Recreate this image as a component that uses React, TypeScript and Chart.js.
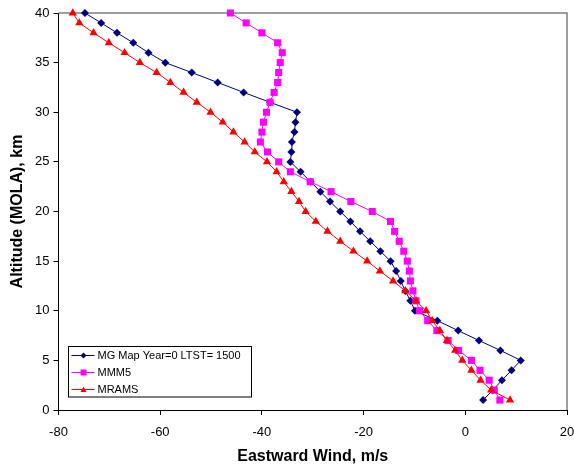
import React, { useEffect, useRef } from 'react';
import { Chart, registerables } from 'chart.js';

Chart.register(...registerables);

const altitudesKm = [1, 2, 3, 4, 5, 6, 7, 8, 9, 10, 11, 12, 13, 14, 15, 16, 17, 18, 19, 20, 21, 22, 23, 24, 25, 26, 27, 28, 29, 30, 31, 32, 33, 34, 35, 36, 37, 38, 39, 40];

const mgMapWind = [3.5, 5.4, 7.2, 9.1, 10.9, 6.9, 2.7, -1.4, -5.5, -9.9, -10.8, -11.8, -12.7, -13.6, -14.7, -16.7, -18.7, -20.7, -22.6, -24.6, -26.6, -28.5, -30.4, -32.4, -34.4, -34.2, -34.1, -33.6, -33.4, -33.1, -38.4, -43.6, -48.7, -53.8, -59.0, -62.3, -65.3, -68.5, -71.6, -74.8];

const mmm5Wind = [6.8, 5.7, 4.7, 2.9, 1.2, -1.3, -3.4, -5.6, -7.4, -9.0, -9.7, -10.3, -10.8, -11.0, -11.4, -12.1, -13.0, -13.9, -14.7, -18.3, -22.5, -26.4, -30.5, -34.4, -36.7, -38.9, -40.3, -40.0, -39.7, -39.1, -38.4, -37.6, -36.9, -36.7, -36.4, -36.0, -36.9, -40.0, -43.1, -46.2];

const mramsWind = [8.8, 5.1, 3.0, 1.2, -0.6, -2.0, -3.6, -5.0, -6.5, -7.7, -9.7, -11.8, -14.2, -16.8, -19.3, -22.0, -24.6, -27.1, -29.4, -31.4, -32.7, -34.2, -35.7, -37.1, -39.0, -41.4, -43.4, -45.6, -47.7, -50.1, -52.8, -55.4, -58.0, -60.7, -64.0, -67.0, -70.1, -73.1, -75.9, -77.2];

const seriesNames = ['MG Map Year=0 LTST= 1500', 'MMM5', 'MRAMS'];
const seriesColors = ['#000080', '#FF00FF', '#FF0000'];
const seriesMarkers = ['rectRot', 'rect', 'triangle'];

const xTickValues = [-80, -60, -40, -20, 0, 20];
const yTickValues = [0, 5, 10, 15, 20, 25, 30, 35, 40];

const xTitle = 'Eastward Wind, m/s';
const yTitle = 'Altitude (MOLA), km';

const FONT = 'Arial, "Liberation Sans", sans-serif';

function toPoints(values: number[]) {
  return values.map((v, i) => ({ x: v, y: altitudesKm[i] }));
}

function drawMarker(ctx: CanvasRenderingContext2D, style: string, x: number, y: number, r: number, color: string) {
  ctx.save();
  ctx.fillStyle = color;
  ctx.beginPath();
  if (style === 'rectRot') {
    ctx.moveTo(x, y - r);
    ctx.lineTo(x + r, y);
    ctx.lineTo(x, y + r);
    ctx.lineTo(x - r, y);
  } else if (style === 'rect') {
    ctx.rect(x - r, y - r, 2 * r, 2 * r);
  } else {
    ctx.moveTo(x, y - r);
    ctx.lineTo(x + r, y + r * 0.8);
    ctx.lineTo(x - r, y + r * 0.8);
  }
  ctx.closePath();
  ctx.fill();
  ctx.restore();
}

const framePlugin = {
  id: 'frameAndLegend',
  beforeDatasetsDraw(chart: any) {
    const { ctx, chartArea } = chart;
    const { left, right, top, bottom } = chartArea;
    ctx.save();
    ctx.strokeStyle = '#808080';
    ctx.lineWidth = 1.5;
    ctx.beginPath();
    ctx.moveTo(left, top);
    ctx.lineTo(right, top);
    ctx.lineTo(right, bottom);
    ctx.stroke();
    ctx.restore();
  },
  afterDraw(chart: any) {
    const { ctx, chartArea } = chart;
    const { left, bottom } = chartArea;
    ctx.save();
    // legend box
    const bx = left + 9;
    const by = bottom - 64;
    const bw = 183;
    const bh = 50.5;
    ctx.fillStyle = '#FFFFFF';
    ctx.fillRect(bx, by, bw, bh);
    ctx.strokeStyle = '#000000';
    ctx.lineWidth = 1;
    ctx.strokeRect(Math.round(bx) + 0.5, Math.round(by) + 0.5, bw, bh);

    const rowYs = [by + 9.5, by + 26.5, by + 43.5];
    ctx.font = '11px ' + FONT;
    ctx.textBaseline = 'middle';
    ctx.textAlign = 'left';
    seriesNames.forEach((name, i) => {
      const yy = rowYs[i];
      ctx.strokeStyle = seriesColors[i];
      ctx.lineWidth = 1;
      ctx.beginPath();
      ctx.moveTo(bx + 4, yy);
      ctx.lineTo(bx + 27, yy);
      ctx.stroke();
      drawMarker(ctx, seriesMarkers[i], bx + 16, yy, 3, seriesColors[i]);
      ctx.fillStyle = '#000000';
      ctx.fillText(name, bx + 30, yy + 0.5);
    });
    ctx.restore();
  },
};

export default function App() {
  const canvasRef = useRef<HTMLCanvasElement | null>(null);

  useEffect(() => {
    document.body.style.margin = '0';
    const canvas = canvasRef.current;
    if (!canvas) return;

    const radii = [4, 5, 4.8];
    const datasets = [mgMapWind, mmm5Wind, mramsWind].map((vals, i) => ({
      label: seriesNames[i],
      data: toPoints(vals),
      showLine: true,
      clip: false as any,
      borderColor: seriesColors[i],
      backgroundColor: seriesColors[i],
      borderWidth: 1,
      pointStyle: seriesMarkers[i] as any,
      pointRadius: radii[i],
      pointBorderWidth: 0,
      pointBackgroundColor: seriesColors[i],
      pointBorderColor: seriesColors[i],
      order: 2 - i,
      tension: 0,
    }));

    const chart = new Chart(canvas, {
      type: 'scatter',
      data: { datasets },
      options: {
        animation: false,
        responsive: false,
        devicePixelRatio: 1,
        layout: { padding: { left: 0, right: 7, top: 13, bottom: 0 } },
        plugins: {
          legend: { display: false },
          tooltip: { enabled: false },
        },
        scales: {
          x: {
            type: 'linear',
            min: -80,
            max: 20,
            afterBuildTicks: (scale: any) => {
              scale.ticks = xTickValues.map((v) => ({ value: v }));
            },
            afterFit: (scale: any) => {
              scale.height = 55;
              scale.paddingLeft = 0;
              scale.paddingRight = 0;
            },
            ticks: {
              color: '#000000',
              font: { family: FONT, size: 13 },
              padding: 10,
              maxRotation: 0,
            },
            grid: {
              drawOnChartArea: false,
              drawTicks: true,
              tickLength: 5,
              color: '#000000',
            },
            border: { color: '#000000', width: 1 },
            title: {
              display: true,
              text: xTitle,
              color: '#000000',
              font: { family: FONT, size: 16, weight: 'bold' },
              padding: { top: 0, bottom: -1 },
            },
          },
          y: {
            type: 'linear',
            min: 0,
            max: 40,
            afterBuildTicks: (scale: any) => {
              scale.ticks = yTickValues.map((v) => ({ value: v }));
            },
            afterFit: (scale: any) => {
              scale.width = 58.5;
              scale.paddingTop = 0;
              scale.paddingBottom = 0;
            },
            ticks: {
              color: '#000000',
              font: { family: FONT, size: 13 },
              padding: 4,
            },
            grid: {
              drawOnChartArea: false,
              drawTicks: true,
              tickLength: 5,
              color: '#000000',
            },
            border: { color: '#000000', width: 1 },
            title: {
              display: true,
              text: yTitle,
              color: '#000000',
              font: { family: FONT, size: 16, weight: 'bold' },
              padding: { top: 8, bottom: 0 },
            },
          },
        },
      },
      plugins: [framePlugin],
    });

    return () => {
      chart.destroy();
    };
  }, []);

  return (
    <div style={{ width: 574, height: 465, background: '#FFFFFF' }}>
      <canvas ref={canvasRef} width={574} height={465} style={{ display: 'block', width: 574, height: 465 }} />
    </div>
  );
}
